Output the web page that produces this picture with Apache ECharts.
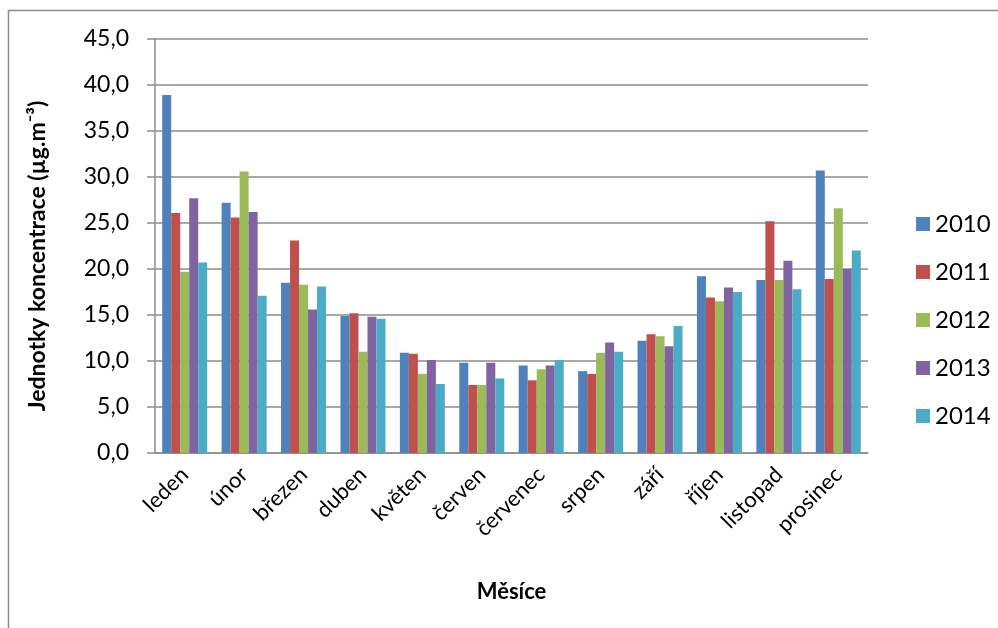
<!DOCTYPE html>
<html>
<head>
<meta charset="utf-8">
<script src="https://cdn.jsdelivr.net/npm/echarts@6/dist/echarts.min.js"></script>
<style>
  html, body { margin: 0; padding: 0; background: #fff; }
  #chart { width: 998px; height: 628px; }
</style>
</head>
<body>
<div id="chart"></div>
<script>
// měsíce a roky
const months = ["leden", "únor", "březen", "duben", "květen", "červen",
  "červenec", "srpen", "září", "říjen", "listopad", "prosinec"];
const years = ["2010", "2011", "2012", "2013", "2014"];

// hodnoty (µg.m-3)
const data2010 = [38.9, 27.2, 18.5, 14.9, 10.9, 9.8, 9.5, 8.9, 12.2, 19.2, 18.8, 30.7];
const data2011 = [26.1, 25.6, 23.1, 15.2, 10.8, 7.4, 7.9, 8.6, 12.9, 16.9, 25.2, 18.9];
const data2012 = [19.7, 30.6, 18.3, 11.0, 8.6, 7.4, 9.1, 10.9, 12.7, 16.5, 18.8, 26.6];
const data2013 = [27.7, 26.2, 15.6, 14.8, 10.1, 9.8, 9.5, 12.0, 11.6, 18.0, 20.9, 20.0];
const data2014 = [20.7, 17.1, 18.1, 14.6, 7.5, 8.1, 10.1, 11.0, 13.8, 17.5, 17.8, 22.0];

const colors = ["#4F81BD", "#C0504D", "#9BBB59", "#8064A2", "#4BACC6"];
const FONT = "Lato, 'Open Sans', sans-serif";

const chart = echarts.init(document.getElementById("chart"));

const allData = [data2010, data2011, data2012, data2013, data2014];
const series = years.map((y, i) => ({
  name: y,
  type: "bar",
  data: allData[i],
  barWidth: 9,
  barGap: "0%",
  itemStyle: { color: colors[i] },
}));

chart.setOption({
  animation: false,
  color: colors,
  textStyle: { fontFamily: FONT },
  grid: { left: 155, right: 130, top: 39, bottom: 175 },
  legend: {
    orient: "vertical",
    left: 911,
    top: 207,
    itemWidth: 14,
    itemHeight: 14,
    itemGap: 24,
    icon: "rect",
    textStyle: { fontSize: 24, color: "#000", fontFamily: FONT },
    data: years,
  },
  xAxis: {
    type: "category",
    data: months,
    name: "Měsíce",
    nameLocation: "middle",
    nameGap: 128,
    nameTextStyle: { fontSize: 22, fontWeight: "bold", color: "#000", fontFamily: FONT },
    axisLine: { lineStyle: { color: "#8c8c8c", width: 1.5 } },
    axisTick: { show: false },
    axisLabel: {
      interval: 0,
      rotate: 45,
      margin: 18,
      fontSize: 22,
      color: "#000",
      fontFamily: FONT,
    },
  },
  yAxis: {
    type: "value",
    min: 0,
    max: 45,
    interval: 5,
    name: "Jednotky koncentrace (µg.m⁻³)",
    nameLocation: "middle",
    nameGap: 106,
    nameRotate: 90,
    nameTextStyle: {
      fontSize: 23,
      fontWeight: "bold",
      color: "#000",
      fontFamily: FONT,
      padding: [0, 20, 0, 0],
    },
    axisLine: { show: true, lineStyle: { color: "#8c8c8c", width: 1.5 } },
    axisTick: { show: true, inside: false, length: 8, lineStyle: { color: "#8c8c8c", width: 1.5 } },
    splitLine: { lineStyle: { color: "#8c8c8c", width: 1.5 } },
    axisLabel: {
      margin: 26,
      fontSize: 23,
      color: "#000",
      fontFamily: FONT,
      formatter: (v) => v.toFixed(1).replace(".", ","),
    },
  },
  graphic: [
    {
      type: "rect",
      shape: { x: 8.5, y: 10.5, width: 1100, height: 700 },
      style: { fill: "none", stroke: "#8c8c8c", lineWidth: 1.5 },
      silent: true,
    },
  ],
  series: series,
});
</script>
</body>
</html>
